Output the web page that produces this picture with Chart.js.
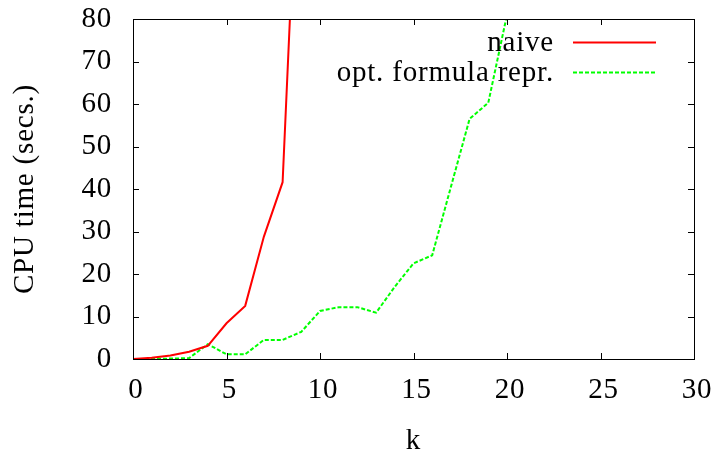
<!DOCTYPE html>
<html lang="en">
<head>
<meta charset="UTF-8" />
<title>CPU time vs k</title>
<script src="https://cdn.jsdelivr.net/npm/chart.js"></script>
<style>
  html, body { margin: 0; padding: 0; background: #fff; }
  #wrap { width: 715px; height: 451px; }
</style>
</head>
<body>
<div id="wrap"><canvas id="myChart"></canvas></div>
<script>
// values
const kNaive = [0, 1, 2, 3, 4, 5, 6, 7, 8, 9];
const naive = [0, 0.3, 0.8, 1.7, 3.1, 8.4, 12.5, 28.8, 41.6, 140];
const kOpt = [0, 1, 2, 3, 4, 5, 6, 7, 8, 9, 10, 11, 12, 13, 14, 15, 16, 17, 18, 19, 20];
const optFormula = [0, 0, 0.1, 0.2, 3.5, 1.1, 1.1, 4.5, 4.5, 6.4, 11.3, 12.2, 12.2, 10.9, 17, 22.5, 24.4, 40.5, 56.5, 60.3, 81];
const seriesNames = ['naive', 'opt. formula repr.'];

const FONT = '"Liberation Serif", "Times New Roman", serif';
const FSIZE = 29;
const SPACING = '0.8px'; // gnuplot's text runs a bit wider than Liberation Serif

function pts(xs, ys) {
    return xs.map((x, i) => ({ x: x, y: ys[i] }));
}

// a little extra letter spacing for every text the chart draws
const spacing = {
    id: 'spacing',
    beforeLayout(chart) { chart.ctx.letterSpacing = SPACING; },
    beforeDraw(chart) { chart.ctx.letterSpacing = SPACING; }
};

// frame with inward ticks on all four sides, plus the key
const frame = {
    id: 'frame',
    afterDatasetsDraw(chart) {
        const ctx = chart.ctx;
        const a = chart.chartArea;
        const xs = chart.scales.x, ys = chart.scales.y;
        ctx.save();
        ctx.strokeStyle = '#000';
        ctx.lineWidth = 1;
        ctx.setLineDash([]);
        ctx.beginPath();
        xs.ticks.forEach(t => {
            const px = Math.round(xs.getPixelForValue(t.value)) + 0.5;
            ctx.moveTo(px, a.bottom); ctx.lineTo(px, a.bottom - 6);
            ctx.moveTo(px, a.top); ctx.lineTo(px, a.top + 6);
        });
        ys.ticks.forEach(t => {
            const py = Math.round(ys.getPixelForValue(t.value)) + 0.5;
            ctx.moveTo(a.left, py); ctx.lineTo(a.left + 6, py);
            ctx.moveTo(a.right, py); ctx.lineTo(a.right - 6, py);
        });
        ctx.stroke();
        ctx.strokeRect(Math.round(a.left) + 0.5, Math.round(a.top) + 0.5,
            Math.round(a.right - a.left), Math.round(a.bottom - a.top));

        // key in the top right corner
        ctx.font = FSIZE + 'px ' + FONT;
        ctx.letterSpacing = SPACING;
        ctx.textAlign = 'right';
        ctx.textBaseline = 'alphabetic';
        chart.data.datasets.forEach((ds, i) => {
            const y = 42 + i * 30;
            ctx.fillStyle = '#000';
            ctx.fillText(ds.label, 554, y + 9);
            ctx.strokeStyle = ds.borderColor;
            ctx.lineWidth = ds.borderWidth;
            ctx.setLineDash(ds.borderDash || []);
            ctx.beginPath();
            ctx.moveTo(573, y + 0.5); ctx.lineTo(656, y + 0.5);
            ctx.stroke();
        });
        ctx.restore();
    }
};

const config = {
    type: 'line',
    data: {
        datasets: [
            {
                label: seriesNames[0],
                data: pts(kNaive, naive),
                borderColor: '#ff0000',
                borderWidth: 2,
                pointRadius: 0,
                tension: 0
            },
            {
                label: seriesNames[1],
                data: pts(kOpt, optFormula),
                borderColor: '#00ff00',
                borderWidth: 2,
                borderDash: [4, 2],
                pointRadius: 0,
                tension: 0
            }
        ]
    },
    options: {
        responsive: false,
        animation: false,
        devicePixelRatio: 1,
        layout: { padding: { top: 19, right: 21, left: 0, bottom: 0 } },
        plugins: { legend: { display: false }, tooltip: { enabled: false } },
        scales: {
            x: {
                type: 'linear',
                min: 0, max: 30,
                grid: { display: false, drawTicks: false },
                border: { display: false },
                ticks: { stepSize: 5, padding: 14, labelOffset: 3, maxRotation: 0, autoSkip: false,
                    color: '#000', font: { family: FONT, size: FSIZE } },
                title: { display: true, text: 'k', color: '#000', padding: { top: 0, bottom: -8 },
                    font: { family: FONT, size: FSIZE } },
                afterFit(s) { s.height = 92; s.paddingLeft = 0; s.paddingRight = 0; }
            },
            y: {
                min: 0, max: 80,
                grid: { display: false, drawTicks: false },
                border: { display: false },
                ticks: { stepSize: 10, padding: 21, color: '#000', font: { family: FONT, size: FSIZE } },
                title: { display: true, text: 'CPU time (secs.)', color: '#000', padding: { top: 8, bottom: 0 },
                    font: { family: FONT, size: FSIZE } },
                afterFit(s) { s.width = 133; s.paddingTop = 0; s.paddingBottom = 0; }
            }
        }
    },
    plugins: [spacing, frame]
};

const canvas = document.getElementById('myChart');
canvas.width = 715;
canvas.height = 451;
const myChart = new Chart(canvas, config);
</script>
</body>
</html>
